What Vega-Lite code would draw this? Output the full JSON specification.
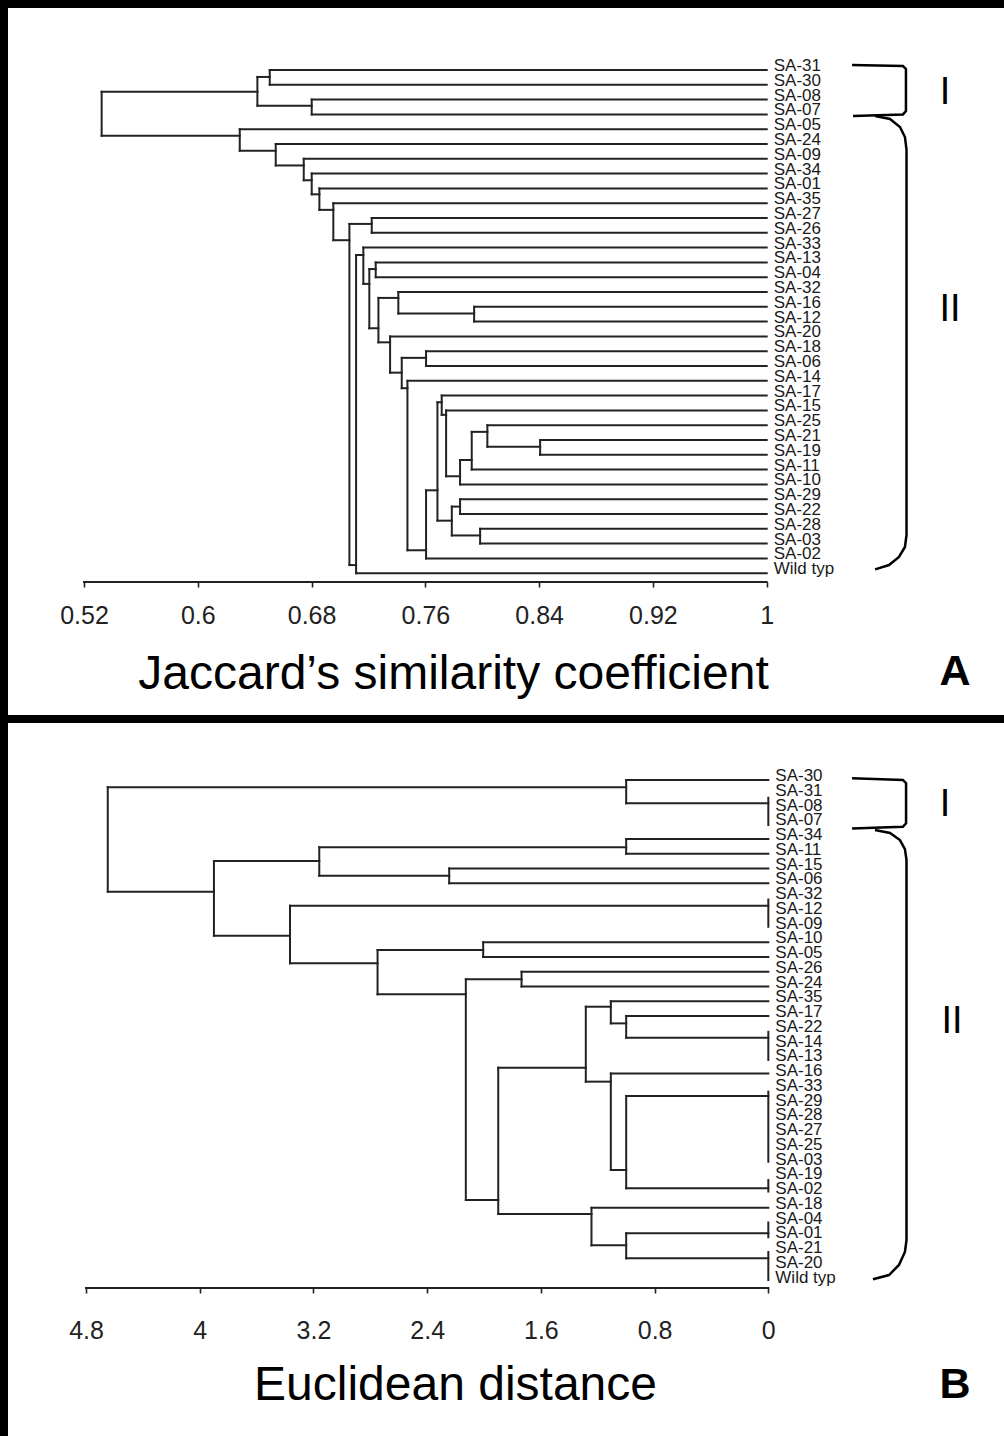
{
  "$schema": "https://vega.github.io/schema/vega-lite/v6.json",
  "padding": 0,
  "autosize": {"type": "pad"},
  "background": "white",
  "spacing": 0,
  "bounds": "flush",
  "config": {"view": {"stroke": "black", "strokeWidth": 8}, "font": "Liberation Sans"},
  "datasets": {
    "segA": [
      {"x":0.5324,"x2":0.5324,"y":1.47,"y2":4.44},{"x":0.6419,"x2":0.6419,"y":0.47,"y2":2.41},{"x":0.6506,"x2":0.6506,"y":0,"y2":1},{"x":0.6801,"x2":0.6801,"y":2,"y2":3},
      {"x":0.6295,"x2":0.6295,"y":4,"y2":5.45},{"x":0.6548,"x2":0.6548,"y":5,"y2":6.45},{"x":0.6745,"x2":0.6745,"y":6,"y2":7.45},{"x":0.6801,"x2":0.6801,"y":7,"y2":8.4},
      {"x":0.6855,"x2":0.6855,"y":8,"y2":9.45},{"x":0.6953,"x2":0.6953,"y":9,"y2":11.5},{"x":0.7066,"x2":0.7066,"y":10.4,"y2":33.45},{"x":0.7223,"x2":0.7223,"y":10,"y2":11},
      {"x":0.7113,"x2":0.7113,"y":12.5,"y2":34},{"x":0.7164,"x2":0.7164,"y":12,"y2":14.45},{"x":0.7206,"x2":0.7206,"y":13.45,"y2":17.45},{"x":0.7251,"x2":0.7251,"y":13,"y2":14},
      {"x":0.727,"x2":0.727,"y":15.4,"y2":18.4},{"x":0.741,"x2":0.741,"y":15,"y2":16.45},{"x":0.7943,"x2":0.7943,"y":16,"y2":17},{"x":0.7352,"x2":0.7352,"y":18,"y2":20.45},
      {"x":0.7434,"x2":0.7434,"y":19.45,"y2":21.5},{"x":0.7605,"x2":0.7605,"y":19,"y2":20},{"x":0.7474,"x2":0.7474,"y":21,"y2":32.45},{"x":0.7605,"x2":0.7605,"y":28.4,"y2":33},
      {"x":0.7685,"x2":0.7685,"y":22.45,"y2":30.45},{"x":0.7715,"x2":0.7715,"y":22,"y2":23.3},{"x":0.7746,"x2":0.7746,"y":23,"y2":27.45},{"x":0.7844,"x2":0.7844,"y":26.35,"y2":28},
      {"x":0.7926,"x2":0.7926,"y":24.45,"y2":27},{"x":0.8036,"x2":0.8036,"y":24,"y2":25.45},{"x":0.8407,"x2":0.8407,"y":25,"y2":26},{"x":0.7786,"x2":0.7786,"y":29.5,"y2":31.45},
      {"x":0.7844,"x2":0.7844,"y":29,"y2":30},{"x":0.7985,"x2":0.7985,"y":31,"y2":32},
      {"x":0.5324,"x2":0.6419,"y":1.47,"y2":1.47},{"x":0.5324,"x2":0.6295,"y":4.44,"y2":4.44},{"x":0.6419,"x2":0.6506,"y":0.47,"y2":0.47},{"x":0.6419,"x2":0.6801,"y":2.41,"y2":2.41},
      {"x":0.6295,"x2":0.6548,"y":5.45,"y2":5.45},{"x":0.6548,"x2":0.6745,"y":6.45,"y2":6.45},{"x":0.6745,"x2":0.6801,"y":7.45,"y2":7.45},{"x":0.6801,"x2":0.6855,"y":8.4,"y2":8.4},
      {"x":0.6855,"x2":0.6953,"y":9.45,"y2":9.45},{"x":0.6953,"x2":0.7066,"y":11.5,"y2":11.5},{"x":0.7066,"x2":0.7223,"y":10.4,"y2":10.4},{"x":0.7066,"x2":0.7113,"y":33.45,"y2":33.45},
      {"x":0.7113,"x2":0.7164,"y":12.5,"y2":12.5},{"x":0.7164,"x2":0.7206,"y":14.45,"y2":14.45},{"x":0.7206,"x2":0.7251,"y":13.45,"y2":13.45},{"x":0.7206,"x2":0.727,"y":17.45,"y2":17.45},
      {"x":0.727,"x2":0.741,"y":15.4,"y2":15.4},{"x":0.727,"x2":0.7352,"y":18.4,"y2":18.4},{"x":0.741,"x2":0.7943,"y":16.45,"y2":16.45},{"x":0.7352,"x2":0.7434,"y":20.45,"y2":20.45},
      {"x":0.7434,"x2":0.7605,"y":19.45,"y2":19.45},{"x":0.7434,"x2":0.7474,"y":21.5,"y2":21.5},{"x":0.7474,"x2":0.7605,"y":32.45,"y2":32.45},{"x":0.7605,"x2":0.7685,"y":28.4,"y2":28.4},
      {"x":0.7685,"x2":0.7715,"y":22.45,"y2":22.45},{"x":0.7685,"x2":0.7786,"y":30.45,"y2":30.45},{"x":0.7715,"x2":0.7746,"y":23.3,"y2":23.3},{"x":0.7746,"x2":0.7844,"y":27.45,"y2":27.45},
      {"x":0.7844,"x2":0.7926,"y":26.35,"y2":26.35},{"x":0.7926,"x2":0.8036,"y":24.45,"y2":24.45},{"x":0.8036,"x2":0.8407,"y":25.45,"y2":25.45},{"x":0.7786,"x2":0.7844,"y":29.5,"y2":29.5},
      {"x":0.7786,"x2":0.7985,"y":31.45,"y2":31.45},
      {"x":0.6506,"x2":1,"y":0,"y2":0},{"x":0.6506,"x2":1,"y":1,"y2":1},{"x":0.6801,"x2":1,"y":2,"y2":2},{"x":0.6801,"x2":1,"y":3,"y2":3},{"x":0.6295,"x2":1,"y":4,"y2":4},
      {"x":0.6548,"x2":1,"y":5,"y2":5},{"x":0.6745,"x2":1,"y":6,"y2":6},{"x":0.6801,"x2":1,"y":7,"y2":7},{"x":0.6855,"x2":1,"y":8,"y2":8},{"x":0.6953,"x2":1,"y":9,"y2":9},
      {"x":0.7223,"x2":1,"y":10,"y2":10},{"x":0.7223,"x2":1,"y":11,"y2":11},{"x":0.7164,"x2":1,"y":12,"y2":12},{"x":0.7251,"x2":1,"y":13,"y2":13},{"x":0.7251,"x2":1,"y":14,"y2":14},
      {"x":0.741,"x2":1,"y":15,"y2":15},{"x":0.7943,"x2":1,"y":16,"y2":16},{"x":0.7943,"x2":1,"y":17,"y2":17},{"x":0.7352,"x2":1,"y":18,"y2":18},{"x":0.7605,"x2":1,"y":19,"y2":19},
      {"x":0.7605,"x2":1,"y":20,"y2":20},{"x":0.7474,"x2":1,"y":21,"y2":21},{"x":0.7715,"x2":1,"y":22,"y2":22},{"x":0.7746,"x2":1,"y":23,"y2":23},{"x":0.8036,"x2":1,"y":24,"y2":24},
      {"x":0.8407,"x2":1,"y":25,"y2":25},{"x":0.8407,"x2":1,"y":26,"y2":26},{"x":0.7926,"x2":1,"y":27,"y2":27},{"x":0.7844,"x2":1,"y":28,"y2":28},{"x":0.7844,"x2":1,"y":29,"y2":29},
      {"x":0.7844,"x2":1,"y":30,"y2":30},{"x":0.7985,"x2":1,"y":31,"y2":31},{"x":0.7985,"x2":1,"y":32,"y2":32},{"x":0.7605,"x2":1,"y":33,"y2":33},{"x":0.7113,"x2":1,"y":34,"y2":34},
      {"x":0.52,"x2":1,"y":34.6,"y2":34.6}
    ],
    "labA": [
      {"name":"SA-31","row":0},{"name":"SA-30","row":1},{"name":"SA-08","row":2},{"name":"SA-07","row":3},{"name":"SA-05","row":4},{"name":"SA-24","row":5},{"name":"SA-09","row":6},
      {"name":"SA-34","row":7},{"name":"SA-01","row":8},{"name":"SA-35","row":9},{"name":"SA-27","row":10},{"name":"SA-26","row":11},{"name":"SA-33","row":12},{"name":"SA-13","row":13},
      {"name":"SA-04","row":14},{"name":"SA-32","row":15},{"name":"SA-16","row":16},{"name":"SA-12","row":17},{"name":"SA-20","row":18},{"name":"SA-18","row":19},{"name":"SA-06","row":20},
      {"name":"SA-14","row":21},{"name":"SA-17","row":22},{"name":"SA-15","row":23},{"name":"SA-25","row":24},{"name":"SA-21","row":25},{"name":"SA-19","row":26},{"name":"SA-11","row":27},
      {"name":"SA-10","row":28},{"name":"SA-29","row":29},{"name":"SA-22","row":30},{"name":"SA-28","row":31},{"name":"SA-03","row":32},{"name":"SA-02","row":33},{"name":"Wild typ","row":34}
    ],
    "brA": [
      {"b":"I","i":0,"x":1.0600,"y":-0.34},{"b":"I","i":1,"x":1.0958,"y":-0.27},{"b":"I","i":2,"x":1.0979,"y":-0.07},{"b":"I","i":3,"x":1.0979,"y":2.77},{"b":"I","i":4,"x":1.0958,"y":3.0},{"b":"I","i":5,"x":1.0607,"y":3.11},
      {"b":"II","i":0,"x":1.0762,"y":3.11},{"b":"II","i":1,"x":1.0867,"y":3.31},{"b":"II","i":2,"x":1.0937,"y":3.85},{"b":"II","i":3,"x":1.0972,"y":4.53},{"b":"II","i":4,"x":1.0983,"y":5.4},
      {"b":"II","i":5,"x":1.0983,"y":31.42},{"b":"II","i":6,"x":1.0972,"y":32.23},{"b":"II","i":7,"x":1.0930,"y":32.9},{"b":"II","i":8,"x":1.0860,"y":33.45},{"b":"II","i":9,"x":1.0762,"y":33.74}
    ],
    "romA": [{"t":"I","x":1.1254,"y":1.55},{"t":"II","x":1.1289,"y":16.2}],
    "letA": [{"t":"A","x":1.1324,"y":40.68}],
    "segB": [
      {"x":4.647,"x2":4.647,"y":0.49,"y2":7.57},{"x":1,"x2":1,"y":0,"y2":1.58},{"x":0,"x2":0,"y":1.2,"y2":3.05},{"x":3.9,"x2":3.9,"y":5.49,"y2":10.56},
      {"x":3.159,"x2":3.159,"y":4.56,"y2":6.49},{"x":1,"x2":1,"y":4,"y2":5},{"x":2.245,"x2":2.245,"y":6,"y2":7},{"x":3.365,"x2":3.365,"y":8.52,"y2":12.43},
      {"x":0,"x2":0,"y":8.1,"y2":9.95},{"x":2.749,"x2":2.749,"y":11.53,"y2":14.53},{"x":2.006,"x2":2.006,"y":11,"y2":12},{"x":2.128,"x2":2.128,"y":13.5,"y2":28.47},
      {"x":1.736,"x2":1.736,"y":13,"y2":14},{"x":1.9,"x2":1.9,"y":19.5,"y2":29.42},{"x":1.284,"x2":1.284,"y":15.37,"y2":20.45},{"x":1.108,"x2":1.108,"y":15,"y2":16.5},
      {"x":1,"x2":1,"y":16,"y2":17.47},{"x":0,"x2":0,"y":17.07,"y2":18.98},{"x":1.108,"x2":1.108,"y":19.9,"y2":26.44},{"x":1,"x2":1,"y":21.42,"y2":27.68},
      {"x":0,"x2":0,"y":21.13,"y2":25.88},{"x":0,"x2":0,"y":27.12,"y2":27.9},{"x":1.244,"x2":1.244,"y":29,"y2":31.55},{"x":1,"x2":1,"y":30.73,"y2":32.43},
      {"x":0,"x2":0,"y":30,"y2":31},{"x":0,"x2":0,"y":32,"y2":33.9},
      {"x":4.647,"x2":1,"y":0.49,"y2":0.49},{"x":4.647,"x2":3.9,"y":7.57,"y2":7.57},{"x":1,"x2":0,"y":0,"y2":0},{"x":1,"x2":0,"y":1.58,"y2":1.58},
      {"x":3.9,"x2":3.159,"y":5.49,"y2":5.49},{"x":3.9,"x2":3.365,"y":10.56,"y2":10.56},{"x":3.159,"x2":1,"y":4.56,"y2":4.56},{"x":3.159,"x2":2.245,"y":6.49,"y2":6.49},
      {"x":1,"x2":0,"y":4,"y2":4},{"x":1,"x2":0,"y":5,"y2":5},{"x":2.245,"x2":0,"y":6,"y2":6},{"x":2.245,"x2":0,"y":7,"y2":7},
      {"x":3.365,"x2":0,"y":8.52,"y2":8.52},{"x":3.365,"x2":2.749,"y":12.43,"y2":12.43},{"x":2.749,"x2":2.006,"y":11.53,"y2":11.53},{"x":2.749,"x2":2.128,"y":14.53,"y2":14.53},
      {"x":2.006,"x2":0,"y":11,"y2":11},{"x":2.006,"x2":0,"y":12,"y2":12},{"x":2.128,"x2":1.736,"y":13.5,"y2":13.5},{"x":2.128,"x2":1.9,"y":28.47,"y2":28.47},
      {"x":1.736,"x2":0,"y":13,"y2":13},{"x":1.736,"x2":0,"y":14,"y2":14},{"x":1.9,"x2":1.284,"y":19.5,"y2":19.5},{"x":1.9,"x2":1.244,"y":29.42,"y2":29.42},
      {"x":1.284,"x2":1.108,"y":15.37,"y2":15.37},{"x":1.284,"x2":1.108,"y":20.45,"y2":20.45},{"x":1.108,"x2":0,"y":15,"y2":15},{"x":1.108,"x2":1,"y":16.5,"y2":16.5},
      {"x":1,"x2":0,"y":16,"y2":16},{"x":1,"x2":0,"y":17.47,"y2":17.47},{"x":1.108,"x2":0,"y":19.9,"y2":19.9},{"x":1.108,"x2":1,"y":26.44,"y2":26.44},
      {"x":1,"x2":0,"y":21.42,"y2":21.42},{"x":1,"x2":0,"y":27.68,"y2":27.68},{"x":1.244,"x2":0,"y":29,"y2":29},{"x":1.244,"x2":1,"y":31.55,"y2":31.55},
      {"x":1,"x2":0,"y":30.73,"y2":30.73},{"x":1,"x2":0,"y":32.43,"y2":32.43},
      {"x":4.8,"x2":0,"y":34.44,"y2":34.44}
    ],
    "labB": [
      {"name":"SA-30","row":0},{"name":"SA-31","row":1},{"name":"SA-08","row":2},{"name":"SA-07","row":3},{"name":"SA-34","row":4},{"name":"SA-11","row":5},{"name":"SA-15","row":6},
      {"name":"SA-06","row":7},{"name":"SA-32","row":8},{"name":"SA-12","row":9},{"name":"SA-09","row":10},{"name":"SA-10","row":11},{"name":"SA-05","row":12},{"name":"SA-26","row":13},
      {"name":"SA-24","row":14},{"name":"SA-35","row":15},{"name":"SA-17","row":16},{"name":"SA-22","row":17},{"name":"SA-14","row":18},{"name":"SA-13","row":19},{"name":"SA-16","row":20},
      {"name":"SA-33","row":21},{"name":"SA-29","row":22},{"name":"SA-28","row":23},{"name":"SA-27","row":24},{"name":"SA-25","row":25},{"name":"SA-03","row":26},{"name":"SA-19","row":27},
      {"name":"SA-02","row":28},{"name":"SA-18","row":29},{"name":"SA-04","row":30},{"name":"SA-01","row":31},{"name":"SA-21","row":32},{"name":"SA-20","row":33},{"name":"Wild typ","row":34}
    ],
    "brB": [
      {"b":"I","i":0,"x":-0.589,"y":-0.12},{"b":"I","i":1,"x":-0.947,"y":0},{"b":"I","i":2,"x":-0.969,"y":0.22},{"b":"I","i":3,"x":-0.969,"y":2.94},{"b":"I","i":4,"x":-0.947,"y":3.17},{"b":"I","i":5,"x":-0.589,"y":3.28},
      {"b":"II","i":0,"x":-0.750,"y":3.39},{"b":"II","i":1,"x":-0.856,"y":3.59},{"b":"II","i":2,"x":-0.926,"y":4.07},{"b":"II","i":3,"x":-0.961,"y":4.68},{"b":"II","i":4,"x":-0.972,"y":5.42},
      {"b":"II","i":5,"x":-0.972,"y":31.19},{"b":"II","i":6,"x":-0.961,"y":32.0},{"b":"II","i":7,"x":-0.919,"y":32.88},{"b":"II","i":8,"x":-0.849,"y":33.56},{"b":"II","i":9,"x":-0.736,"y":33.85}
    ],
    "romB": [{"t":"I","x":-1.243,"y":1.7},{"t":"II","x":-1.292,"y":16.4}],
    "letB": [{"t":"B","x":-1.313,"y":41.02}]
  },
  "vconcat": [
    {
      "width": 1010,
      "height": 715,
      "layer": [
        {
          "data": {"name": "segA"},
          "mark": {"type": "rule", "stroke": "#222222", "strokeWidth": 2, "strokeCap": "square"},
          "encoding": {
            "x": {"field": "x", "type": "quantitative",
              "scale": {"domain": [0.46375, 1.17387], "nice": false, "zero": false},
              "axis": {"values": [0.52, 0.6, 0.68, 0.76, 0.84, 0.92, 1], "domain": false, "grid": false,
                "offset": -137, "tickSize": 5, "tickColor": "#222222", "tickWidth": 1.6,
                "labelExpr": "'' + datum.value", "labelFont": "Liberation Sans", "labelFontSize": 25, "labelColor": "#222",
                "labelBaseline": "middle", "labelPadding": 28, "labelFlush": false, "labelOverlap": false,
                "title": "Jaccard’s similarity coefficient", "titleFont": "Liberation Sans", "titleFontSize": 48,
                "titleFontWeight": "normal", "titleColor": "black", "titleX": 449, "titleY": 106,
                "titleBaseline": "alphabetic", "titleAlign": "center", "titleAnchor": null}},
            "x2": {"field": "x2"},
            "y": {"field": "y", "type": "quantitative", "scale": {"domain": [-4.459, 43.851], "reverse": true, "nice": false, "zero": false}, "axis": null},
            "y2": {"field": "y2"}
          }
        },
        {
          "data": {"name": "labA"},
          "mark": {"type": "text", "align": "left", "baseline": "middle", "dx": 7, "dy": -4, "fontSize": 17, "font": "Liberation Sans", "color": "#1a1a1a"},
          "encoding": {
            "x": {"datum": 1, "type": "quantitative"},
            "y": {"field": "row", "type": "quantitative"},
            "text": {"field": "name"}
          }
        },
        {
          "data": {"name": "brA"},
          "mark": {"type": "line", "stroke": "black", "strokeWidth": 2.5},
          "encoding": {
            "x": {"field": "x", "type": "quantitative"},
            "y": {"field": "y", "type": "quantitative"},
            "detail": {"field": "b"},
            "order": {"field": "i"}
          }
        },
        {
          "data": {"name": "romA"},
          "mark": {"type": "text", "align": "center", "baseline": "middle", "fontSize": 38, "font": "Liberation Sans", "color": "black"},
          "encoding": {
            "x": {"field": "x", "type": "quantitative"},
            "y": {"field": "y", "type": "quantitative"},
            "text": {"field": "t"}
          }
        },
        {
          "data": {"name": "letA"},
          "mark": {"type": "text", "align": "center", "baseline": "middle", "fontSize": 43, "fontWeight": "bold", "font": "Liberation Sans", "color": "black"},
          "encoding": {
            "x": {"field": "x", "type": "quantitative"},
            "y": {"field": "y", "type": "quantitative"},
            "text": {"field": "t"}
          }
        }
      ]
    },
    {
      "width": 1010,
      "height": 721,
      "layer": [
        {
          "data": {"name": "segB"},
          "mark": {"type": "rule", "stroke": "#222222", "strokeWidth": 2, "strokeCap": "square"},
          "encoding": {
            "x": {"field": "x", "type": "quantitative",
              "scale": {"domain": [-1.7283, 5.3769], "reverse": true, "nice": false, "zero": false},
              "axis": {"values": [4.8, 4, 3.2, 2.4, 1.6, 0.8, 0], "domain": false, "grid": false,
                "offset": -152, "tickSize": 5, "tickColor": "#222222", "tickWidth": 1.6,
                "labelExpr": "'' + datum.value", "labelFont": "Liberation Sans", "labelFontSize": 25, "labelColor": "#222",
                "labelBaseline": "middle", "labelPadding": 37, "labelFlush": false, "labelOverlap": false,
                "title": "Euclidean distance", "titleFont": "Liberation Sans", "titleFontSize": 48,
                "titleFontWeight": "normal", "titleColor": "black", "titleX": 451, "titleY": 111,
                "titleBaseline": "alphabetic", "titleAlign": "center", "titleAnchor": null}},
            "x2": {"field": "x2"},
            "y": {"field": "y", "type": "quantitative", "scale": {"domain": [-4.136, 44.745], "reverse": true, "nice": false, "zero": false}, "axis": null},
            "y2": {"field": "y2"}
          }
        },
        {
          "data": {"name": "labB"},
          "mark": {"type": "text", "align": "left", "baseline": "middle", "dx": 7, "dy": -4, "fontSize": 17, "font": "Liberation Sans", "color": "#1a1a1a"},
          "encoding": {
            "x": {"datum": 0, "type": "quantitative"},
            "y": {"field": "row", "type": "quantitative"},
            "text": {"field": "name"}
          }
        },
        {
          "data": {"name": "brB"},
          "mark": {"type": "line", "stroke": "black", "strokeWidth": 2.5},
          "encoding": {
            "x": {"field": "x", "type": "quantitative"},
            "y": {"field": "y", "type": "quantitative"},
            "detail": {"field": "b"},
            "order": {"field": "i"}
          }
        },
        {
          "data": {"name": "romB"},
          "mark": {"type": "text", "align": "center", "baseline": "middle", "fontSize": 38, "font": "Liberation Sans", "color": "black"},
          "encoding": {
            "x": {"field": "x", "type": "quantitative"},
            "y": {"field": "y", "type": "quantitative"},
            "text": {"field": "t"}
          }
        },
        {
          "data": {"name": "letB"},
          "mark": {"type": "text", "align": "center", "baseline": "middle", "fontSize": 43, "fontWeight": "bold", "font": "Liberation Sans", "color": "black"},
          "encoding": {
            "x": {"field": "x", "type": "quantitative"},
            "y": {"field": "y", "type": "quantitative"},
            "text": {"field": "t"}
          }
        }
      ]
    }
  ]
}
